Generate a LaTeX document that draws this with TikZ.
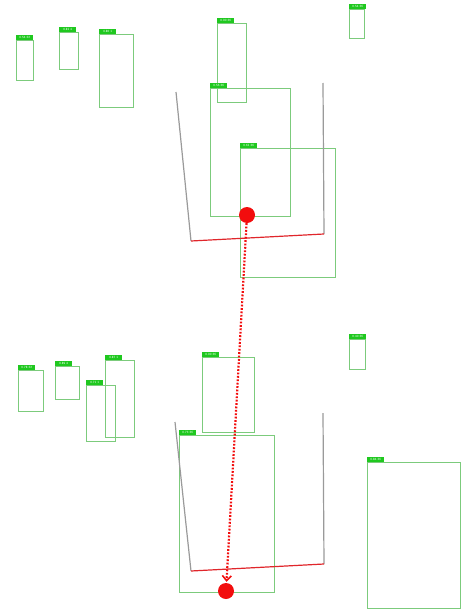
\documentclass[tikz,border=0pt]{standalone}
\usepackage{tikz}
\usetikzlibrary{arrows.meta, positioning}
\definecolor{detline}{HTML}{7CCB7C}
\definecolor{detfill}{HTML}{1FC81F}
\definecolor{binside}{HTML}{9A9A9A}
\definecolor{binfloor}{HTML}{E0262B}
\definecolor{marker}{HTML}{F20D0D}

\begin{document}
\begin{tikzpicture}[
  x=1pt, y=-1pt,
  det/.style={draw=detline, line width=0.8pt},
  tag/.style={fill=detfill, text=white, inner sep=0.6pt, anchor=south west,
              minimum width=17pt, minimum height=5pt, align=left,
              font=\fontsize{3.2}{3.5}\selectfont\sffamily},
  side/.style={draw=binside, line width=1.2pt},
  floor/.style={draw=binfloor, line width=1.2pt},
  dot/.style={circle, fill=marker, inner sep=0pt, minimum size=16pt},
  move/.style={-{Straight Barb[length=5pt, width=9pt, line width=1.6pt]},
               draw=marker, line width=2.2pt,
               dash pattern=on 1.8pt off 1.6pt, shorten >=1pt}
]
\useasboundingbox (0,0) rectangle (461,613);
% upper scene: detections
\draw[det] (16,40) rectangle (33,80);
\node[tag] (t1) at (16,40) {0.54 22};
\draw[det] (59,32) rectangle (78,69);
\node[tag] (t2) at (59,32) {0.81 4};
\draw[det] (99,34) rectangle (133,107);
\node[tag] (t3) at (99,34) {0.80 1};
\draw[det] (217,23) rectangle (246,102);
\node[tag] (t4) at (217,23) {0.90 26};
\draw[det] (349,9) rectangle (364,38);
\node[tag] (t5) at (349,9) {0.54 26};
\draw[det] (210,88) rectangle (290,216);
\node[tag] (t6) at (210,88) {0.56 26};
\draw[det] (240,148) rectangle (335,277);
\node[tag] (t7) at (240,148) {0.61 26};
% upper bin
\coordinate (ul) at (176,92);
\coordinate (ulb) at (191,241);
\coordinate (urb) at (324,234);
\coordinate (ur) at (323,83);
\draw[side] (ul) -- (ulb);
\draw[side] (ur) -- (urb);
\draw[floor] (ulb) -- (urb);
% lower scene: detections
\draw[det] (18,370) rectangle (43,411);
\node[tag] (t8) at (18,370) {0.78 22};
\draw[det] (55,366) rectangle (79,399);
\node[tag] (t9) at (55,366) {0.89 4};
\draw[det] (105,360) rectangle (134,437);
\node[tag] (t10) at (105,360) {0.87 1};
\draw[det] (86,385) rectangle (115,441);
\node[tag] (t11) at (86,385) {0.71 1};
\draw[det] (202,357) rectangle (254,432);
\node[tag] (t12) at (202,357) {0.90 26};
\draw[det] (349,339) rectangle (365,369);
\node[tag] (t13) at (349,339) {0.40 26};
\draw[det] (179,435) rectangle (274,592);
\node[tag] (t14) at (179,435) {0.73 26};
\draw[det] (367,462) rectangle (460,608);
\node[tag] (t15) at (367,462) {0.84 26};
% lower bin
\coordinate (ll) at (175,422);
\coordinate (llb) at (191,571);
\coordinate (lrb) at (324,564);
\coordinate (lr) at (323,413);
\draw[side] (ll) -- (llb);
\draw[side] (lr) -- (lrb);
\draw[floor] (llb) -- (lrb);
% markers and motion
\node[dot] (start) at (247,215) {};
\node[dot] (goal) at (226,591) {};
\draw[move] (start) -- (goal);
\end{tikzpicture}
\end{document}
